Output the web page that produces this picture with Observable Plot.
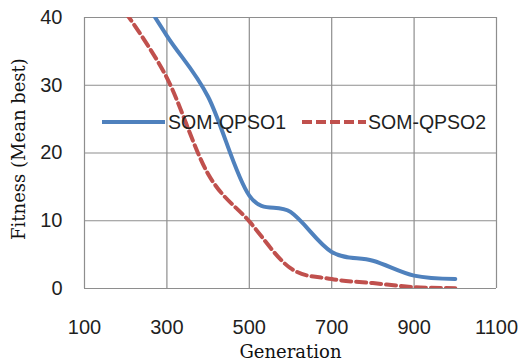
<!DOCTYPE html>
<html>
<head>
<meta charset="utf-8">
<script src="https://cdn.jsdelivr.net/npm/d3@7"></script>
<script src="https://cdn.jsdelivr.net/npm/@observablehq/plot@0.6"></script>
<style>
  html, body { margin: 0; padding: 0; background: #fff; }
  #wrap { position: relative; width: 527px; height: 363px; }
  #wrap svg.plot { position: absolute; left: 0; top: 0; }
  g[aria-label="x-axis label"] text, g[aria-label="y-axis label"] text {
    font-family: "DejaVu Serif", serif; font-size: 18px; fill: #111;
  }
  #legend { position: absolute; left: 0; top: 0; pointer-events: none; }
</style>
</head>
<body>
<div id="wrap"></div>
<script>
// Data
const generations = [200, 300, 400, 500, 600, 700, 800, 900, 1000];
const somQpso1 = [47.0, 37.3, 28.3, 13.7, 11.3, 5.4, 4.1, 1.9, 1.4];
const somQpso2 = [40.7, 31.1, 16.9, 9.9, 3.0, 1.4, 0.8, 0.2, 0.05];
const seriesNames = ["SOM-QPSO1", "SOM-QPSO2"];
const seriesColors = ["#4F81BD", "#C0504D"];
const xTicks = [100, 300, 500, 700, 900, 1100];
const yTicks = [0, 10, 20, 30, 40];

const rows = [];
generations.forEach((g, i) => {
  rows.push({gen: g, value: somQpso1[i], series: seriesNames[0]});
  rows.push({gen: g, value: somQpso2[i], series: seriesNames[1]});
});

const grid = "#8e8e8e";
const chart = Plot.plot({
  width: 527,
  height: 363,
  marginLeft: 84,
  marginRight: 31,
  marginTop: 17,
  marginBottom: 75,
  style: {fontFamily: "'Liberation Sans', Arial, sans-serif", fontSize: "20px", color: "#1f1f1f", background: "#fff", overflow: "visible"},
  x: {domain: [100, 1100]},
  y: {domain: [0, 40]},
  marks: [
    Plot.gridX(xTicks, {stroke: grid, strokeOpacity: 1, strokeWidth: 1.2}),
    Plot.gridY(yTicks, {stroke: grid, strokeOpacity: 1, strokeWidth: 1.2}),
    Plot.axisX(xTicks, {tickSize: 0, tickPadding: 31, fontSize: 20, tickFormat: d => String(d), label: "Generation", labelAnchor: "center", labelOffset: 69, labelArrow: "none"}),
    Plot.axisY(yTicks, {tickSize: 0, tickPadding: 22, fontSize: 20, tickFormat: d => String(d), label: "Fitness (Mean best)", labelAnchor: "center", labelOffset: 72, labelArrow: "none"}),
    Plot.line(rows.filter(d => d.series === seriesNames[0]), {
      x: "gen", y: "value", stroke: seriesColors[0], strokeWidth: 4, curve: "cardinal", tension: 0, clip: true
    }),
    Plot.line(rows.filter(d => d.series === seriesNames[1]), {
      x: "gen", y: "value", stroke: seriesColors[1], strokeWidth: 4, strokeDasharray: "10,5", curve: "cardinal", tension: 0, clip: true
    })
  ]
});
chart.classList.add("plot");
const wrap = document.getElementById("wrap");
wrap.appendChild(chart);

// nudge the y title up a little, as in the original
const yl = chart.querySelector('g[aria-label="y-axis label"]');
if (yl) yl.setAttribute("transform", ((yl.getAttribute("transform") || "") + " translate(0,-4)").trim());

// Legend overlay (inside plot area, like the original)
const ns = "http://www.w3.org/2000/svg";
const leg = document.createElementNS(ns, "svg");
leg.setAttribute("id", "legend");
leg.setAttribute("width", 527);
leg.setAttribute("height", 363);
const items = [
  {x0: 102, x1: 165, tx: 168, dash: null},
  {x0: 302, x1: 366, tx: 368, dash: "10,4"}
];
items.forEach((it, i) => {
  const ln = document.createElementNS(ns, "line");
  ln.setAttribute("x1", it.x0); ln.setAttribute("x2", it.x1);
  ln.setAttribute("y1", 122); ln.setAttribute("y2", 122);
  ln.setAttribute("stroke", seriesColors[i]);
  ln.setAttribute("stroke-width", 4);
  if (it.dash) ln.setAttribute("stroke-dasharray", it.dash);
  leg.appendChild(ln);
  const t = document.createElementNS(ns, "text");
  t.setAttribute("x", it.tx); t.setAttribute("y", 122);
  t.setAttribute("dy", "0.35em");
  t.setAttribute("font-family", "'Liberation Sans', Arial, sans-serif");
  t.setAttribute("font-size", 19.5);
  t.setAttribute("fill", "#1f1f1f");
  t.textContent = seriesNames[i];
  leg.appendChild(t);
});
wrap.appendChild(leg);
</script>
</body>
</html>
